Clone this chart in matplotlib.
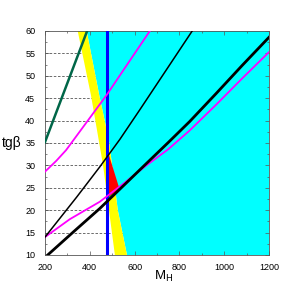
import matplotlib
matplotlib.use("Agg")
import matplotlib.pyplot as plt
from matplotlib.ticker import MultipleLocator

plt.rcParams['font.family'] = ['Liberation Sans', 'DejaVu Sans']

# region boundaries (M_H, tg beta)
yellow_left_m = [346, 405, 459, 512]
yellow_left_tb = [60, 45.7, 30.1, 10]
yellow_right_m = [386, 442, 485, 525, 566]
yellow_right_tb = [60, 45.7, 35.7, 20, 10]

red_m = [480, 534, 480]
red_tb = [33.2, 24.5, 22.8]
green_m = [482, 512, 482]
green_tb = [23.0, 23.9, 21.8]

blue_m = 475

# curves
dgreen_m = [200, 388]
dgreen_tb = [35.2, 60]
mag1_m = [200, 250, 294, 400, 475, 560, 668]
mag1_tb = [28.6, 31.0, 33.4, 40.6, 45.7, 52.0, 60]
mag2_m = [200, 311, 445, 557, 650, 750, 846, 965, 1080, 1200]
mag2_tb = [14.0, 18.0, 21.9, 26.2, 29.9, 33.6, 37.8, 43.6, 49.4, 55.3]
blk1_m = [200, 341, 445, 534, 623, 740, 857]
blk1_tb = [14.0, 22.9, 29.7, 35.8, 42.4, 51.2, 60]
blk2_m = [212, 330, 445, 557, 646, 750, 846, 965, 1080, 1200]
blk2_tb = [10, 15.3, 20.4, 25.8, 30.1, 35.1, 39.8, 46.1, 52.3, 58.6]

x_ticks = [200, 400, 600, 800, 1000, 1200]
y_ticks = [10, 15, 20, 25, 30, 35, 40, 45, 50, 55, 60]

fig = plt.figure(figsize=(3, 3), dpi=100)
ax = fig.add_axes([45/300, 45/300, 224/300, 224/300])
ax.set_xlim(200, 1200)
ax.set_ylim(10, 60)

# grid under everything
for t in y_ticks[1:-1]:
    ax.axhline(t, color='#555555', lw=0.6, ls=(0, (3, 2)), zorder=0)

# cyan: right of yellow band
cx = yellow_right_m + [1200, 1200]
cy = yellow_right_tb + [10, 60]
ax.fill(cx, cy, color='#00ffff', lw=0, zorder=1)
# yellow band
yx = yellow_left_m + yellow_right_m[::-1]
yy = yellow_left_tb + yellow_right_tb[::-1]
ax.fill(yx, yy, color='#ffff00', lw=0, zorder=2)
ax.fill(red_m, red_tb, color='#ff0000', lw=0, zorder=3)
ax.fill(green_m, green_tb, color='#30b030', lw=0, zorder=3)

ax.axvline(blue_m, color='#0000ff', lw=2.2, zorder=4)
ax.plot(dgreen_m, dgreen_tb, color='#006648', lw=1.8, zorder=5)
ax.plot(mag1_m, mag1_tb, color='#ff00ff', lw=1.3, zorder=5)
ax.plot(mag2_m, mag2_tb, color='#ff00ff', lw=1.3, zorder=5)
ax.plot(blk1_m, blk1_tb, color='black', lw=1.1, zorder=6)
ax.plot(blk2_m, blk2_tb, color='black', lw=2.0, zorder=6)

ax.set_xticks(x_ticks)
ax.set_yticks(y_ticks)
ax.xaxis.set_minor_locator(MultipleLocator(100))
ax.yaxis.set_minor_locator(MultipleLocator(2.5))
ax.tick_params(which='both', direction='in', top=True, right=True,
               color='#555555', labelsize=6.5)
ax.tick_params(which='major', length=3, width=0.5)
ax.tick_params(which='minor', length=1.5, width=0.5)
ax.tick_params(axis='y', pad=7)
ax.tick_params(axis='x', pad=6)
for s in ax.spines.values():
    s.set_color('#555555')
    s.set_linewidth(0.6)

fig.text(2/300, 1 - 143/300, 'tgβ', fontsize=10, va='center', ha='left')
fig.text(154/300, 1 - 276/300, r'M$_{\rm H}$', fontsize=9.5, va='center', ha='left')

fig.savefig('out.png', dpi=100)
